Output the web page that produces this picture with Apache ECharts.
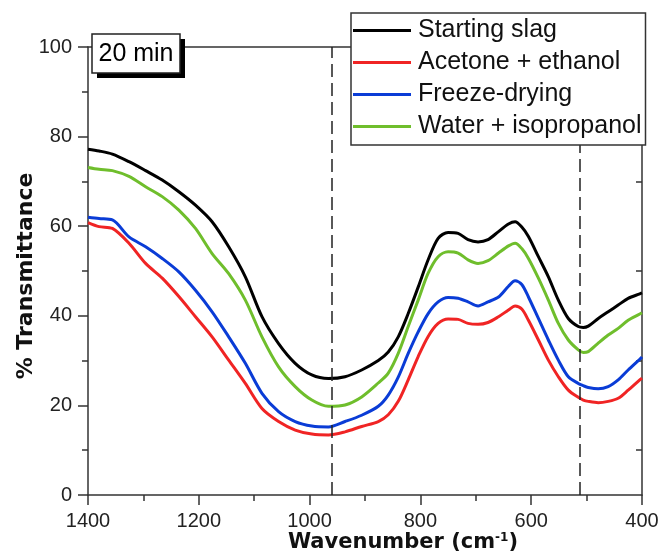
<!DOCTYPE html>
<html><head><meta charset="utf-8">
<script src="https://cdn.jsdelivr.net/npm/echarts@6/dist/echarts.min.js"></script>
<style>html,body{margin:0;padding:0;background:#fff}#c{width:662px;height:553px}</style>
</head><body><div id="c"></div>
<script>
const wavenumbers = [1400,1380,1356,1326,1296,1266,1236,1206,1176,1146,1116,1086,1056,1026,996,966,936,906,876,858,840,822,804,786,768,750,732,714,696,678,659,641,629,617,605,587,569,551,533,515,506,497,479,461,443,425,404,400];
const startingSlag = [77.2,76.8,76.1,74.4,72.4,70.3,67.7,64.7,61.0,55.4,48.7,39.8,33.8,29.4,26.8,26.0,26.4,27.9,30.0,31.9,35.3,40.5,46.4,52.5,57.3,58.6,58.4,57.0,56.5,57.0,58.8,60.5,61.0,59.8,57.7,53.2,48.7,43.5,39.4,37.6,37.4,37.7,39.4,40.9,42.4,43.9,44.9,45.1];
const acetoneEthanol = [60.8,59.9,59.5,56.2,51.7,48.4,44.3,39.8,35.3,30.1,24.9,19.3,16.4,14.5,13.6,13.4,14.1,15.3,16.4,17.9,20.9,25.7,30.9,35.4,38.3,39.3,39.2,38.3,38.1,38.5,39.8,41.3,42.2,41.5,39.0,34.6,30.1,26.4,23.4,21.8,21.2,20.9,20.6,20.9,21.6,23.4,25.7,26.1];
const freezeDrying = [62.0,61.7,61.4,57.6,55.4,52.8,49.8,45.7,40.9,35.3,29.4,22.7,18.6,16.4,15.4,15.2,16.4,17.8,19.8,22.3,26.3,31.6,36.4,40.5,43.1,44.1,43.9,43.1,42.2,43.1,44.2,46.6,47.8,47.0,44.2,39.4,34.6,30.1,26.4,24.9,24.4,24.0,23.7,24.2,25.7,27.9,30.3,30.8];
const waterIsopropanol = [73.1,72.7,72.4,71.1,68.8,66.6,63.6,59.5,53.9,49.4,43.5,35.3,28.6,24.2,21.2,19.8,20.1,21.9,25.0,27.2,31.6,37.6,43.5,49.5,53.2,54.3,54.0,52.5,51.7,52.3,54.0,55.6,56.2,55.0,52.8,48.4,43.5,38.3,34.6,32.4,31.8,32.0,33.9,35.7,37.2,39.0,40.4,40.7];
const seriesNames = ['Starting slag','Acetone + ethanol','Freeze-drying','Water + isopropanol'];
const seriesColors = ['#000000','#f02424','#0a3cd6','#6fbe2c'];
const seriesValues = [startingSlag, acetoneEthanol, freezeDrying, waterIsopropanol];
const xRange = [400, 1400];
const yRange = [0, 100];
const dashedLines = [960, 513];
const panelLabel = '20 min';

const chart = echarts.init(document.getElementById('c'), null, {renderer:'canvas'});
const axisColor = '#333';
const labelFont = '"Liberation Sans", Arial, sans-serif';
const series = seriesNames.map((n, k) => ({
  name: n, type: 'line', symbol: 'none', smooth: 0.3,
  data: wavenumbers.map((w, i) => [w, seriesValues[k][i]]),
  lineStyle: {color: seriesColors[k], width: 3},
  itemStyle: {color: seriesColors[k]},
  z: 2
}));
series[0].markLine = {
  silent: true, symbol: ['none','none'], label: {show:false},
  lineStyle: {type:[13,6], color:'#222', width:1.5},
  data: dashedLines.map(v => ({xAxis: v}))
};
chart.setOption({
  animation: false,
  grid: {left: 88, right: 20, top: 47, bottom: 58, containLabel:false, outerBoundsMode:'none'},
  xAxis: [{
    type:'value', inverse:true, min:xRange[0], max:xRange[1], interval:200,
    axisLine:{show:true, lineStyle:{color:axisColor, width:1.5}},
    axisTick:{show:true, length:10, lineStyle:{color:axisColor, width:1.5}},
    minorTick:{show:true, splitNumber:2, length:6, lineStyle:{color:axisColor, width:1.5}},
    splitLine:{show:false}, minorSplitLine:{show:false},
    axisLabel:{color:'#222', fontSize:20, fontFamily:labelFont, margin:16, formatter: v => String(v)},
    name:'Wavenumber (cm{sup|-1})', nameLocation:'middle', nameGap:37, nameMoveOverlap:false,
    nameTextStyle:{fontFamily:'"DejaVu Sans"', fontWeight:'bold', fontSize:21, color:'#111', padding:[0,0,0,76],
      rich:{sup:{fontFamily:'"DejaVu Sans"', fontWeight:'bold', fontSize:12, verticalAlign:'top', padding:[0,0,10,0], color:'#111'}}}
  },{
    type:'value', inverse:true, min:xRange[0], max:xRange[1], interval:200, position:'top',
    axisLine:{show:true, onZero:false, lineStyle:{color:axisColor, width:1.5}},
    axisTick:{show:false}, axisLabel:{show:false}, splitLine:{show:false}
  }],
  yAxis: [{
    type:'value', min:yRange[0], max:yRange[1], interval:20,
    axisLine:{show:true, lineStyle:{color:axisColor, width:1.5}},
    axisTick:{show:true, length:10, lineStyle:{color:axisColor, width:1.5}},
    minorTick:{show:true, splitNumber:2, length:6, lineStyle:{color:axisColor, width:1.5}},
    splitLine:{show:false}, minorSplitLine:{show:false},
    axisLabel:{color:'#222', fontSize:20, fontFamily:labelFont, margin:16},
    name:'% Transmittance', nameLocation:'middle', nameGap:51, nameRotate:90, nameMoveOverlap:false,
    nameTextStyle:{fontFamily:'"DejaVu Sans"', fontWeight:'bold', fontSize:22, color:'#111', padding:[0,10,0,0]}
  },{
    type:'value', min:yRange[0], max:yRange[1], interval:20, position:'right',
    axisLine:{show:true, onZero:false, lineStyle:{color:axisColor, width:1.5}},
    axisTick:{show:false, inside:true},
    minorTick:{show:true, splitNumber:2, length:6, lineStyle:{color:axisColor, width:1.5}},
    axisLabel:{show:false}, splitLine:{show:false}, minorSplitLine:{show:false}
  }],
  legend: {
    data: seriesNames, orient:'vertical', left:351, top:13, icon:'rect',
    padding:[5,4,6,2], itemGap:7, itemWidth:58, itemHeight:3,
    backgroundColor:'#fff', borderColor:'#333', borderWidth:1.5, borderRadius:0,
    textStyle:{fontSize:25, fontFamily:labelFont, color:'#111', padding:[0,0,0,2], lineHeight:24},
    z: 10
  },
  graphic: [
    {type:'rect', shape:{x:97, y:39, width:88, height:39}, style:{fill:'#000'}, z:20},
    {type:'rect', shape:{x:92, y:34, width:88, height:39}, style:{fill:'#fff', stroke:'#222', lineWidth:1.5}, z:21},
    {type:'text', x:136, y:54, style:{text:panelLabel, fontSize:25, fontFamily:labelFont, fill:'#000', align:'center', verticalAlign:'middle'}, z:22}
  ],
  series: series
});
</script></body></html>
